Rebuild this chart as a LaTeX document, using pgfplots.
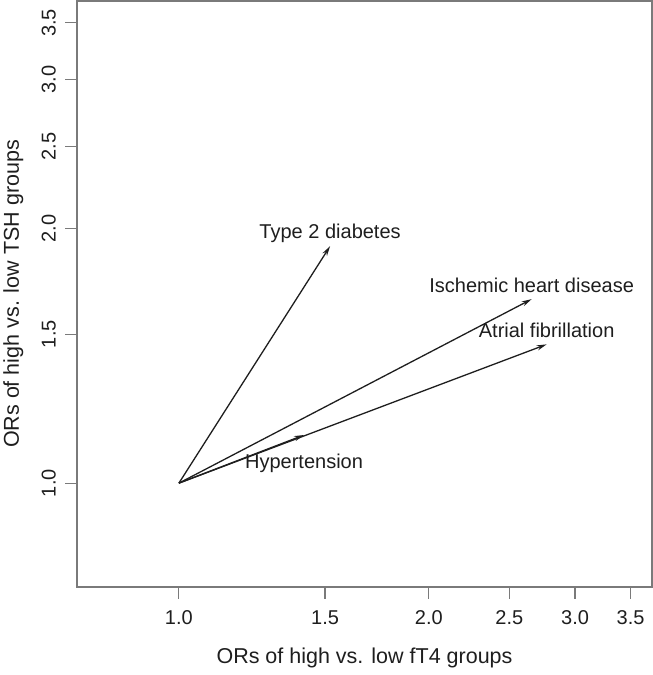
\documentclass[border=0pt]{standalone}
\usepackage{fontspec}
\setmainfont{Liberation Sans}
\usepackage{pgfplots}
\pgfplotsset{compat=1.18}
\usetikzlibrary{arrows.meta}
\definecolor{framegray}{HTML}{7A7A7A}
\definecolor{ink}{HTML}{1E1E1E}
\tikzset{arr/.style={ink, line width=0.65pt, mark=none, -{Stealth[length=5pt,width=2.6pt]}},
  lab/.style={font=\fontsize{10}{12}\selectfont, text=ink}}
\begin{document}
\begin{tikzpicture}
\begin{axis}[
  scale only axis,
  width=287.5pt, height=293pt,
  xmode=log, ymode=log,
  xmin=0.754, xmax=3.714, ymin=0.754, ymax=3.714,
  axis line style={framegray, line width=0.6pt},
  tick style={framegray, line width=0.6pt},
  tick align=outside, major tick length=6pt,
  xtick={1,1.5,2,2.5,3,3.5}, xticklabels={1.0,1.5,2.0,2.5,3.0,3.5},
  ytick={1,1.5,2,2.5,3,3.5}, yticklabels={1.0,1.5,2.0,2.5,3.0,3.5},
  xminorticks=false, yminorticks=false,
  /pgf/number format/assume math mode=true,
  xticklabel style={font=\fontsize{10}{12}\selectfont, text=ink, anchor=base, yshift=-13pt},
  yticklabel style={font=\fontsize{10}{12}\selectfont, text=ink, xshift=-4.75pt, rotate=90, anchor=base},
  xlabel={ORs of high vs. low fT4 groups},
  ylabel={ORs of high vs. low TSH groups},
  xlabel style={font=\fontsize{10.75}{13}\selectfont, text=ink, at={(axis description cs:0.5,-0.1297)}, anchor=base},
  ylabel style={font=\fontsize{10.75}{13}\selectfont, text=ink, at={(axis description cs:-0.1009,0.5)}, rotate=0, anchor=base},
  clip=false,
]
\addplot[arr] coordinates {(1,1) (1.521,1.906)} node[pos=1, anchor=base, yshift=4pt, lab] {Type 2 diabetes};
\addplot[arr] coordinates {(1,1) (2.660,1.650)} node[pos=1, anchor=base, yshift=3.25pt, lab] {Ischemic heart disease};
\addplot[arr] coordinates {(1,1) (2.773,1.459)} node[pos=1, anchor=base, yshift=3.25pt, lab] {Atrial fibrillation};
\addplot[arr] coordinates {(1,1) (1.415,1.140)} node[pos=1, anchor=base, yshift=-16.5pt, lab] {Hypertension};
\end{axis}
\pgfresetboundingbox
\path ([shift={(-38.5pt,-44pt)}]current axis.south west) rectangle ([shift={(0.5pt,0.5pt)}]current axis.north east);
\end{tikzpicture}
\end{document}
